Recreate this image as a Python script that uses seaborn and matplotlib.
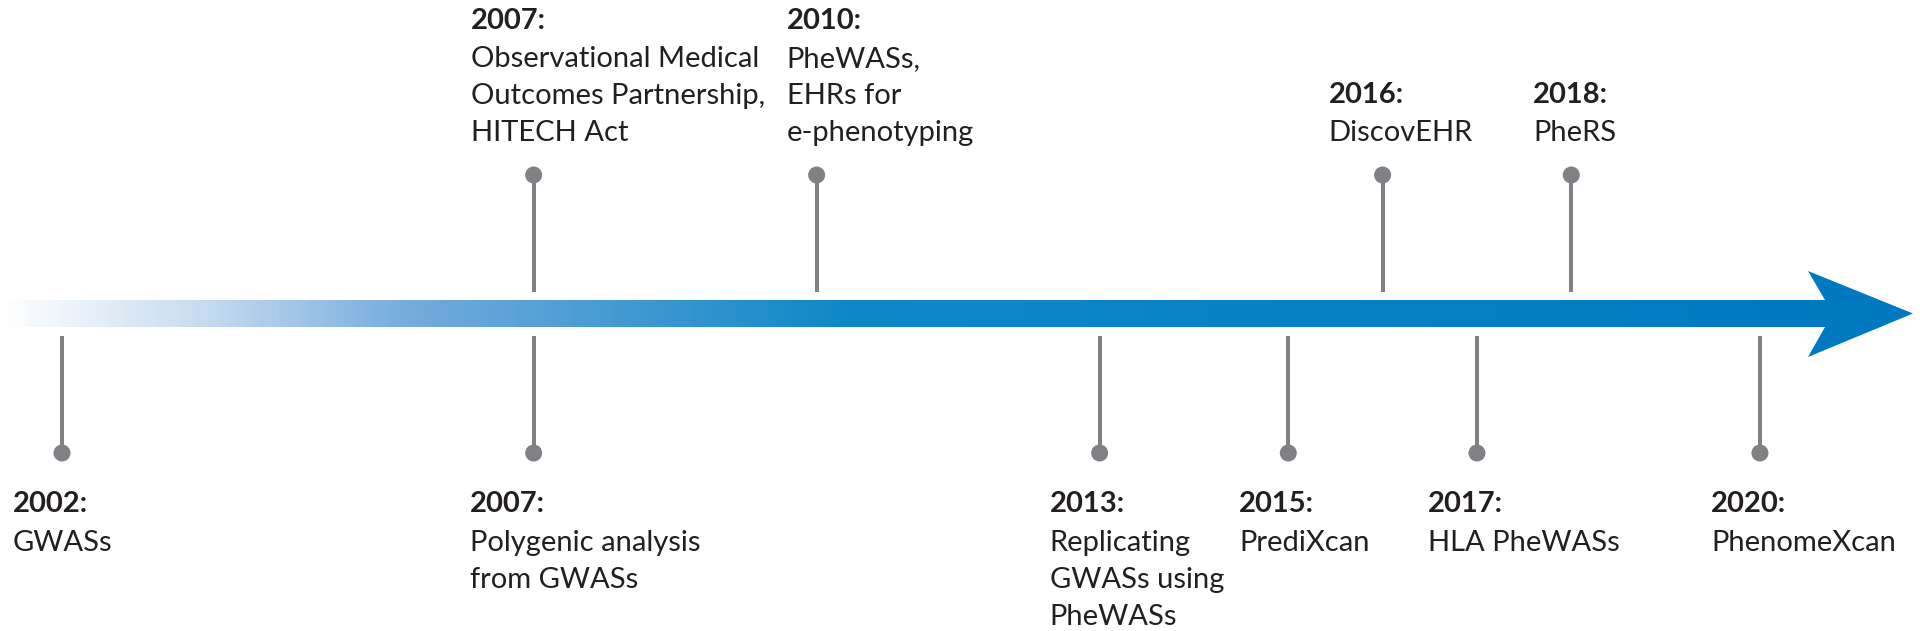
import numpy as np
import pandas as pd
import matplotlib.pyplot as plt
from matplotlib.colors import LinearSegmentedColormap
import seaborn as sns

# timeline events
years = [2002, 2007, 2007, 2010, 2013, 2015, 2016, 2017, 2018, 2020]
sides = ['below', 'above', 'below', 'above', 'below', 'below', 'above', 'below', 'above', 'below']
descriptions = [
    'GWASs',
    'Observational Medical\nOutcomes Partnership,\nHITECH Act',
    'Polygenic analysis\nfrom GWASs',
    'PheWASs,\nEHRs for\ne-phenotyping',
    'Replicating\nGWASs using\nPheWASs',
    'PrediXcan',
    'DiscovEHR',
    'HLA PheWASs',
    'PheRS',
    'PhenomeXcan',
]

# layout (pixels, figure is 1920x631 and the axes fill it)
label_dx = [-49, -63, -64, -30, -50, -49, -54, -49, -38, -49]
PX_PER_YEAR = 94.33
X0_PX = 62
GRAY = '#808184'
TEXT = '#231f20'

def px_to_year(px):
    return years[0] + (px - X0_PX) / PX_PER_YEAR

sns.set_style('white')
plt.rcParams['font.family'] = ['Lato', 'DejaVu Sans']

fig = plt.figure(figsize=(19.2, 6.31), dpi=100)
ax = fig.add_axes([0, 0, 1, 1])
ax.set_xlim(px_to_year(0), px_to_year(1920))
ax.set_ylim(631, 0)
ax.axis('off')

# gradient shaft
cmap = LinearSegmentedColormap.from_list('shaft', [
    (0.0, '#ffffff'), (0.11, '#c6dbf0'), (0.22, '#75acdc'),
    (0.46, '#1088c8'), (1.0, '#0079c1')])
grad = np.linspace(0, 1, 512)[np.newaxis, :]
ax.imshow(grad, extent=[px_to_year(0), px_to_year(1826), 327, 300],
          aspect='auto', cmap=cmap, interpolation='bicubic', zorder=1)

# arrow head
back, notch, tip = px_to_year(1808), px_to_year(1825), px_to_year(1913)
ax.fill([back, tip, back, notch, px_to_year(1795), px_to_year(1795), notch],
        [271, 313.5, 357, 327, 327, 300, 300], color='#0079c1', lw=0, zorder=2)

df = pd.DataFrame({'year': years, 'side': sides, 'text': descriptions})
df['dot_y'] = np.where(df['side'] == 'above', 175, 453)
df['stem_end'] = np.where(df['side'] == 'above', 292, 336)

ax.vlines(df['year'], df['dot_y'], df['stem_end'], color=GRAY, lw=2.9, zorder=3)
sns.scatterplot(data=df, x='year', y='dot_y', s=150, color=GRAY,
                edgecolor='none', ax=ax, zorder=4, legend=False)
ax.set_xlabel('')
ax.set_ylabel('')

for (i, row), dx in zip(df.iterrows(), label_dx):
    lines = row['text'].split('\n')
    if row['side'] == 'below':
        year_base = 512
        line_base = [551 + 37 * k for k in range(len(lines))]
    else:
        line_base = [141 - 37 * (len(lines) - 1 - k) for k in range(len(lines))]
        year_base = line_base[0] - 38
    ax.annotate(f"{row['year']}:", xy=(row['year'], year_base), xytext=(dx, 0),
                textcoords='offset pixels', ha='left', va='baseline',
                fontsize=21, fontweight='bold', color=TEXT)
    for yb, line in zip(line_base, lines):
        ax.annotate(line, xy=(row['year'], yb), xytext=(dx, 0),
                    textcoords='offset pixels', ha='left', va='baseline',
                    fontsize=21, color=TEXT)

fig.savefig('out.png', dpi=100)
